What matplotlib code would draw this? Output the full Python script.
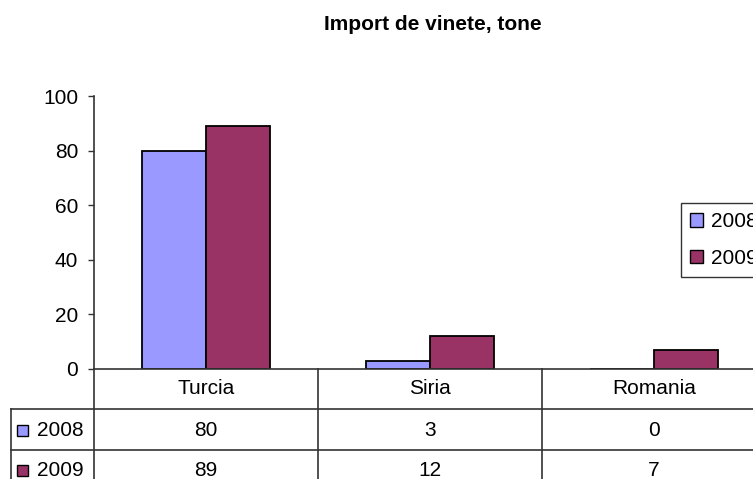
import matplotlib.pyplot as plt
from matplotlib.patches import Patch, Rectangle
from matplotlib.lines import Line2D
import numpy as np

plt.rcParams['font.family'] = ['Liberation Sans', 'DejaVu Sans']

# Data
title = 'Import de vinete, tone'
categories = ['Turcia', 'Siria', 'Romania']
years = ['2008', '2009']
vals_2008 = [80, 3, 0]
vals_2009 = [89, 12, 7]
colors = ['#9999FF', '#993366']
yticks = [0, 20, 40, 60, 80, 100]

W, H = 753, 479
line_col = '#333333'
fs = 15


def px(x, y):  # pixel from top-left -> figure fraction
    return x / W, 1 - y / H


fig = plt.figure(figsize=(W / 100, H / 100), dpi=100)
x0, y0 = px(94, 369)
x1, y1 = px(766, 96)
ax = fig.add_axes([x0, y0, x1 - x0, y1 - y0])

x = np.arange(len(categories))
bw = 1 / 3.5  # Excel gap width 150%
series = [vals_2008, vals_2009]
for i, (vals, c, yr) in enumerate(zip(series, colors, years)):
    ax.bar(x + (i - 0.5) * bw, vals, bw, color=c, edgecolor='black', linewidth=1.3, label=yr)

ax.set_xlim(-0.5, len(categories) - 0.5)
ax.set_ylim(0, 100)
ax.set_yticks(yticks)
ax.set_xticks([])
for s in ['top', 'right']:
    ax.spines[s].set_visible(False)
for s in ['left', 'bottom']:
    ax.spines[s].set_color(line_col)
    ax.spines[s].set_linewidth(1.2)
ax.spines['bottom'].set_zorder(3)
ax.tick_params(axis='y', length=4.3, width=1, color=line_col, pad=7, labelsize=fs)

fig.text(433 / W, 1 - 24 / H, title, ha='center', va='center', fontsize=15, fontweight='bold')

# Data table under the axis
inv = fig.transFigure.inverted()
def fx(xd):
    return inv.transform(ax.transData.transform((xd, 0)))[0]

for b in np.arange(len(categories) + 1) - 0.5:
    fig.add_artist(Line2D([fx(b), fx(b)], [y0, 0], transform=fig.transFigure, color=line_col, lw=1.2))
for yy in [409, 450]:
    fig.add_artist(Line2D([11 / W, 1.0], [px(0, yy)[1]] * 2, transform=fig.transFigure, color=line_col, lw=1.2))
fig.add_artist(Line2D([11 / W, 11 / W], [px(0, 409)[1], 0], transform=fig.transFigure, color=line_col, lw=1.2))

for i, cat in enumerate(categories):
    fig.text(fx(i), px(0, 389)[1], cat, ha='center', va='center', fontsize=fs)
row_y = [430, 470]
for vals, c, yr, ry in zip(series, colors, years, row_y):
    fig.add_artist(Rectangle(px(17, ry + 5.5), 11 / W, 11 / H, transform=fig.transFigure,
                             facecolor=c, edgecolor='black', lw=1))
    fig.text(37 / W, px(0, ry)[1], yr, ha='left', va='center', fontsize=fs)
    for i, v in enumerate(vals):
        fig.text(fx(i), px(0, ry)[1], str(v), ha='center', va='center', fontsize=fs)

# Legend on the right (runs off the edge like the original)
handles = [Patch(facecolor=c, edgecolor='black', label=yr) for c, yr in zip(colors, years)]
leg = fig.legend(handles=handles, loc='upper left', bbox_to_anchor=px(681, 203), frameon=True,
                 fancybox=False, edgecolor=line_col, framealpha=1, fontsize=fs,
                 handlelength=0.6, handleheight=0.6, handletextpad=0.4, borderpad=0.45,
                 labelspacing=0.85, borderaxespad=0)
leg.get_frame().set_linewidth(1)

fig.savefig('out.png', dpi=100)
